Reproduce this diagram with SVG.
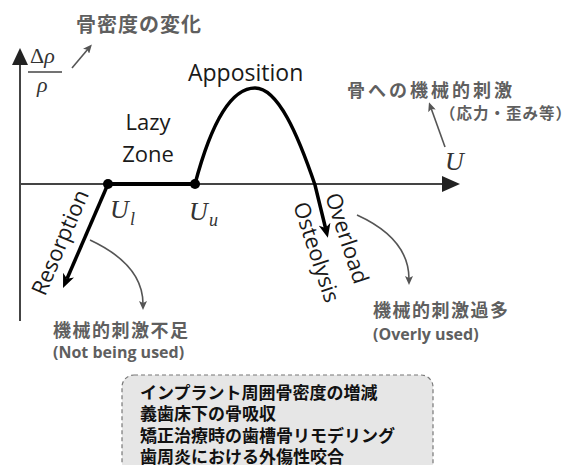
<svg xmlns="http://www.w3.org/2000/svg" width="567" height="465" viewBox="0 0 567 465">
<defs>
<style>
.jp{font-family:"Noto Sans CJK JP","Noto Sans",sans-serif;font-weight:bold;fill:#5f5f5f}
.en{font-family:"Open Sans","Liberation Sans",sans-serif;fill:#1a1a1a}
.enb{font-family:"Open Sans","Liberation Sans",sans-serif;font-weight:bold;fill:#5f5f5f}
.math{font-family:"Liberation Serif","DejaVu Serif",serif;font-style:italic;fill:#333}
.box{font-family:"Noto Sans CJK JP","Noto Sans",sans-serif;font-weight:bold;fill:#111;font-size:17px}
.thick{fill:none;stroke:#000;stroke-width:3.5}
.thin{fill:none;stroke:#555;stroke-width:1.6}
.axis{stroke:#444;stroke-width:2;fill:none}
</style>
<marker id="bigArrow" markerUnits="userSpaceOnUse" markerWidth="14" markerHeight="12" viewBox="0 0 14 12" refX="4" refY="6" orient="auto">
<path d="M0,0 L14,6 L0,12 L4,6 z" fill="#000"/>
</marker>
<marker id="smallArrow" markerUnits="userSpaceOnUse" markerWidth="9" markerHeight="8" viewBox="0 0 9 8" refX="3" refY="4" orient="auto">
<path d="M0,0 L9,4 L0,8 L2,4 z" fill="#555"/>
</marker>
</defs>
<rect width="567" height="465" fill="#fff"/>

<g id="axes">
<line class="axis" x1="20" y1="62" x2="20" y2="321"/>
<polygon points="20,48 28,65 12,65" fill="#222"/>
<line class="axis" x1="20" y1="184" x2="445" y2="184"/>
<polygon points="460,184 442,176 442,192" fill="#222"/>
</g>

<g id="y-label">
<text class="math" x="30" y="63" font-size="22"><tspan font-style="normal">Δ</tspan>ρ</text>
<line x1="28" y1="72" x2="62" y2="72" stroke="#444" stroke-width="1.5"/>
<text class="math" x="37" y="92" font-size="22">ρ</text>
<text class="jp" x="76" y="32" font-size="20" letter-spacing="1">骨密度の変化</text>
</g>

<g id="x-label">
<text class="math" x="445" y="170" font-size="26">U</text>
<text class="jp" x="347" y="97" font-size="18" letter-spacing="3">骨への機械的刺激</text>
<text class="jp" x="440" y="119" font-size="15.5" letter-spacing="1">（応力・歪み等）</text>
</g>

<g id="connectors">
<line class="thin" x1="72" y1="68" x2="88" y2="49" marker-end="url(#smallArrow)"/>
<line class="thin" x1="445" y1="147" x2="431" y2="108" marker-end="url(#smallArrow)"/>
<path class="thin" d="M90,240 C120,254 143,275 143,304" marker-end="url(#smallArrow)"/>
<path class="thin" d="M357,215 C390,230 409,250 409,279" marker-end="url(#smallArrow)"/>
<line class="thick" x1="108" y1="184" x2="67" y2="278.8" marker-end="url(#bigArrow)"/>
<line x1="108" y1="184" x2="195" y2="184" stroke="#000" stroke-width="4"/>
<path class="thick" d="M195,184 C212,120 232,88 255,88 C278,88 298,135 315,185 L325.5,228" marker-end="url(#bigArrow)"/>
</g>

<g id="node-Ul">
<circle cx="108" cy="184" r="5" fill="#000"/>
<text class="math" x="110" y="218" font-size="26">U</text>
<text class="math" x="130" y="225" font-size="18">l</text>
</g>
<g id="node-Uu">
<circle cx="195" cy="184" r="5" fill="#000"/>
<text class="math" x="189" y="220" font-size="26">U</text>
<text class="math" x="209" y="226" font-size="18">u</text>
</g>

<g id="labels">
<text class="en" x="188" y="81" font-size="23">Apposition</text>
<text class="en" x="148" y="130" font-size="22" text-anchor="middle">Lazy</text>
<text class="en" x="148" y="162" font-size="22" text-anchor="middle">Zone</text>
<text class="en" font-size="22" transform="translate(45,297) rotate(-66.8)">Resorption</text>
<text class="en" font-size="22" transform="translate(325,196) rotate(71.8)">Overload</text>
<text class="en" font-size="22" transform="translate(293,205) rotate(71.8)">Osteolysis</text>
</g>

<g id="node-lack">
<text class="jp" x="53" y="337" font-size="18" letter-spacing="1.5">機械的刺激不足</text>
<text class="enb" x="53" y="358" font-size="16">(Not being used)</text>
</g>
<g id="node-excess">
<text class="jp" x="373" y="317" font-size="18" letter-spacing="1.5">機械的刺激過多</text>
<text class="enb" x="373" y="340" font-size="16">(Overly used)</text>
</g>

<g id="node-box">
<rect x="122" y="375" width="311" height="100" rx="12" ry="12" fill="#e6e6e6" stroke="#777" stroke-width="1.2" stroke-dasharray="4,3"/>
<text class="box" x="140" y="399">インプラント周囲骨密度の増減</text>
<text class="box" x="140" y="420">義歯床下の骨吸収</text>
<text class="box" x="140" y="442">矯正治療時の歯槽骨リモデリング</text>
<text class="box" x="140" y="463">歯周炎における外傷性咬合</text>
</g>
</svg>
